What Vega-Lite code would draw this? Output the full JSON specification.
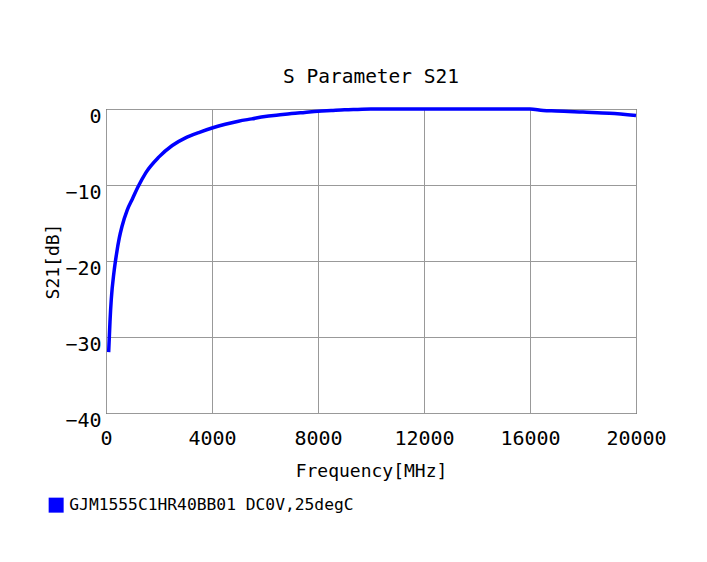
{
  "$schema": "https://vega.github.io/schema/vega-lite/v6.json",
  "width": 530,
  "height": 304,
  "autosize": {"type": "none"},
  "padding": {"left": 106, "top": 109, "right": 71, "bottom": 149},
  "background": "white",
  "title": {
    "text": "S Parameter S21",
    "font": "DejaVu Sans Mono",
    "fontSize": 19.5,
    "fontWeight": "normal",
    "color": "black",
    "offset": 15
  },
  "data": {
    "values": [
      {"series": "GJM1555C1HR40BB01 DC0V,25degC", "freq": 100, "s21": -32.0},
      {"series": "GJM1555C1HR40BB01 DC0V,25degC", "freq": 150, "s21": -28.0},
      {"series": "GJM1555C1HR40BB01 DC0V,25degC", "freq": 200, "s21": -25.0},
      {"series": "GJM1555C1HR40BB01 DC0V,25degC", "freq": 300, "s21": -21.5},
      {"series": "GJM1555C1HR40BB01 DC0V,25degC", "freq": 400, "s21": -19.0},
      {"series": "GJM1555C1HR40BB01 DC0V,25degC", "freq": 500, "s21": -17.0},
      {"series": "GJM1555C1HR40BB01 DC0V,25degC", "freq": 600, "s21": -15.5},
      {"series": "GJM1555C1HR40BB01 DC0V,25degC", "freq": 800, "s21": -13.3},
      {"series": "GJM1555C1HR40BB01 DC0V,25degC", "freq": 1000, "s21": -11.8},
      {"series": "GJM1555C1HR40BB01 DC0V,25degC", "freq": 1200, "s21": -10.3},
      {"series": "GJM1555C1HR40BB01 DC0V,25degC", "freq": 1500, "s21": -8.4},
      {"series": "GJM1555C1HR40BB01 DC0V,25degC", "freq": 2000, "s21": -6.3},
      {"series": "GJM1555C1HR40BB01 DC0V,25degC", "freq": 2500, "s21": -4.8},
      {"series": "GJM1555C1HR40BB01 DC0V,25degC", "freq": 3000, "s21": -3.8},
      {"series": "GJM1555C1HR40BB01 DC0V,25degC", "freq": 3500, "s21": -3.1},
      {"series": "GJM1555C1HR40BB01 DC0V,25degC", "freq": 4000, "s21": -2.5},
      {"series": "GJM1555C1HR40BB01 DC0V,25degC", "freq": 4500, "s21": -2.0},
      {"series": "GJM1555C1HR40BB01 DC0V,25degC", "freq": 5000, "s21": -1.6},
      {"series": "GJM1555C1HR40BB01 DC0V,25degC", "freq": 5500, "s21": -1.3},
      {"series": "GJM1555C1HR40BB01 DC0V,25degC", "freq": 6000, "s21": -1.0},
      {"series": "GJM1555C1HR40BB01 DC0V,25degC", "freq": 6500, "s21": -0.8},
      {"series": "GJM1555C1HR40BB01 DC0V,25degC", "freq": 7000, "s21": -0.6},
      {"series": "GJM1555C1HR40BB01 DC0V,25degC", "freq": 7500, "s21": -0.45},
      {"series": "GJM1555C1HR40BB01 DC0V,25degC", "freq": 8000, "s21": -0.3},
      {"series": "GJM1555C1HR40BB01 DC0V,25degC", "freq": 8500, "s21": -0.2},
      {"series": "GJM1555C1HR40BB01 DC0V,25degC", "freq": 9000, "s21": -0.1},
      {"series": "GJM1555C1HR40BB01 DC0V,25degC", "freq": 9500, "s21": -0.05},
      {"series": "GJM1555C1HR40BB01 DC0V,25degC", "freq": 10000, "s21": 0.0},
      {"series": "GJM1555C1HR40BB01 DC0V,25degC", "freq": 11000, "s21": 0.0},
      {"series": "GJM1555C1HR40BB01 DC0V,25degC", "freq": 12000, "s21": 0.0},
      {"series": "GJM1555C1HR40BB01 DC0V,25degC", "freq": 13000, "s21": 0.0},
      {"series": "GJM1555C1HR40BB01 DC0V,25degC", "freq": 14000, "s21": 0.0},
      {"series": "GJM1555C1HR40BB01 DC0V,25degC", "freq": 15000, "s21": 0.0},
      {"series": "GJM1555C1HR40BB01 DC0V,25degC", "freq": 16000, "s21": 0.0},
      {"series": "GJM1555C1HR40BB01 DC0V,25degC", "freq": 16500, "s21": -0.2},
      {"series": "GJM1555C1HR40BB01 DC0V,25degC", "freq": 17000, "s21": -0.25},
      {"series": "GJM1555C1HR40BB01 DC0V,25degC", "freq": 18000, "s21": -0.4},
      {"series": "GJM1555C1HR40BB01 DC0V,25degC", "freq": 19000, "s21": -0.55},
      {"series": "GJM1555C1HR40BB01 DC0V,25degC", "freq": 20000, "s21": -0.85}
    ]
  },
  "mark": {"type": "line", "strokeWidth": 3.5, "interpolate": "monotone", "clip": false},
  "encoding": {
    "x": {
      "field": "freq",
      "type": "quantitative",
      "scale": {"domain": [0, 20000], "nice": false, "zero": false},
      "axis": {
        "title": "Frequency[MHz]",
        "values": [0, 4000, 8000, 12000, 16000, 20000],
        "format": "d",
        "domain": false,
        "ticks": false,
        "labelPadding": 15,
        "labelFont": "DejaVu Sans Mono",
        "labelFontSize": 20,
        "labelColor": "black",
        "labelFlush": false,
        "labelOverlap": false,
        "titleFont": "DejaVu Sans Mono",
        "titleFontSize": 18,
        "titleFontWeight": "normal",
        "titleColor": "black",
        "titlePadding": 14,
        "gridColor": "#999999",
        "gridWidth": 1,
        "gridOpacity": 1
      }
    },
    "y": {
      "field": "s21",
      "type": "quantitative",
      "scale": {"domain": [-40, 0], "nice": false, "zero": false},
      "axis": {
        "title": "S21[dB]",
        "values": [-40, -30, -20, -10, 0],
        "format": "d",
        "domain": false,
        "ticks": false,
        "labelPadding": 5,
        "labelBaseline": "top",
        "labelOffset": -3,
        "labelFont": "DejaVu Sans Mono",
        "labelFontSize": 20,
        "labelColor": "black",
        "labelFlush": false,
        "labelOverlap": false,
        "titleFont": "DejaVu Sans Mono",
        "titleFontSize": 18,
        "titleFontWeight": "normal",
        "titleColor": "black",
        "titlePadding": 2,
        "gridColor": "#999999",
        "gridWidth": 1,
        "gridOpacity": 1
      }
    },
    "color": {
      "field": "series",
      "type": "nominal",
      "scale": {"range": ["#0000ff"]},
      "legend": {
        "title": null,
        "orient": "none",
        "legendX": -58,
        "legendY": 388,
        "padding": 0,
        "symbolType": "square",
        "symbolSize": 225,
        "symbolStrokeWidth": 0,
        "symbolFillColor": "#0000ff",
        "symbolOpacity": 1,
        "labelFont": "DejaVu Sans Mono",
        "labelFontSize": 16.3,
        "labelColor": "black",
        "labelOffset": 5,
        "labelLimit": 400
      }
    }
  },
  "config": {
    "view": {"stroke": "black", "strokeWidth": 1}
  }
}
